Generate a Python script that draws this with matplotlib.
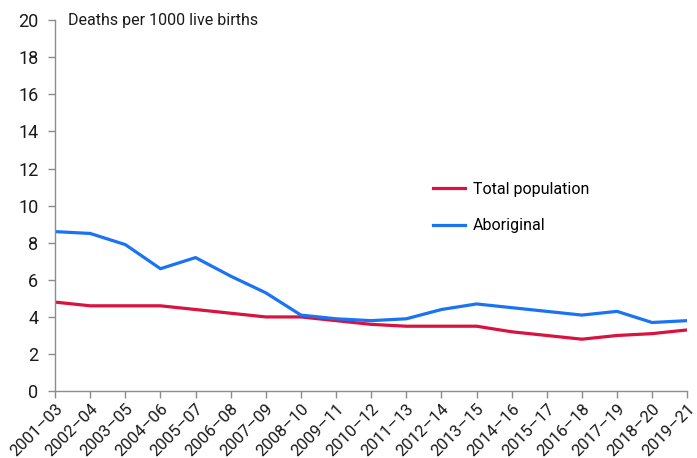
import matplotlib
matplotlib.use("Agg")
import matplotlib.pyplot as plt

periods = ["2001–03", "2002–04", "2003–05", "2004–06", "2005–07", "2006–08",
           "2007–09", "2008–10", "2009–11", "2010–12", "2011–13", "2012–14",
           "2013–15", "2014–16", "2015–17", "2016–18", "2017–19", "2018–20",
           "2019–21"]
total_population = [4.8, 4.6, 4.6, 4.6, 4.4, 4.2, 4.0, 4.0, 3.8, 3.6,
                    3.5, 3.5, 3.5, 3.2, 3.0, 2.8, 3.0, 3.1, 3.3]
aboriginal = [8.6, 8.5, 7.9, 6.6, 7.2, 6.2, 5.3, 4.1, 3.9, 3.8,
              3.9, 4.4, 4.7, 4.5, 4.3, 4.1, 4.3, 3.7, 3.8]

plt.rcParams['font.family'] = ['Roboto', 'DejaVu Sans']

fig = plt.figure(figsize=(6.97, 4.58), dpi=100)
ax = fig.add_axes([0.079, 0.146, 0.907, 0.81])

x = range(len(periods))
ax.plot(x, total_population, color="#d9123f", lw=2.3, label="Total population")
ax.plot(x, aboriginal, color="#1a73f5", lw=2.3, label="Aboriginal")

ax.set_xlim(0, len(periods) - 1)
ax.set_ylim(0, 20)
ax.set_yticks(range(0, 21, 2))
ax.set_xticks(list(x))
ax.set_xticklabels(periods, rotation=45, ha="right", rotation_mode="anchor")

for side in ("top", "right"):
    ax.spines[side].set_visible(False)
for side in ("left", "bottom"):
    ax.spines[side].set_color("#8c8c8c")
    ax.spines[side].set_linewidth(1)
ax.tick_params(axis="both", colors="#8c8c8c", labelcolor="#1a1a1a",
               length=5, width=1)
ax.tick_params(axis="y", labelsize=13, pad=7)
ax.tick_params(axis="x", labelsize=12, pad=2)

ax.text(0.02, 1.0, "Deaths per 1000 live births", transform=ax.transAxes,
        fontsize=11.5, va="center", ha="left", color="#1a1a1a")

ax.legend(loc="center left", bbox_to_anchor=(0.575, 0.495), frameon=False,
          fontsize=11.5, handlelength=2.0, labelspacing=1.35, handletextpad=0.5)

fig.savefig("out.png", dpi=100)
